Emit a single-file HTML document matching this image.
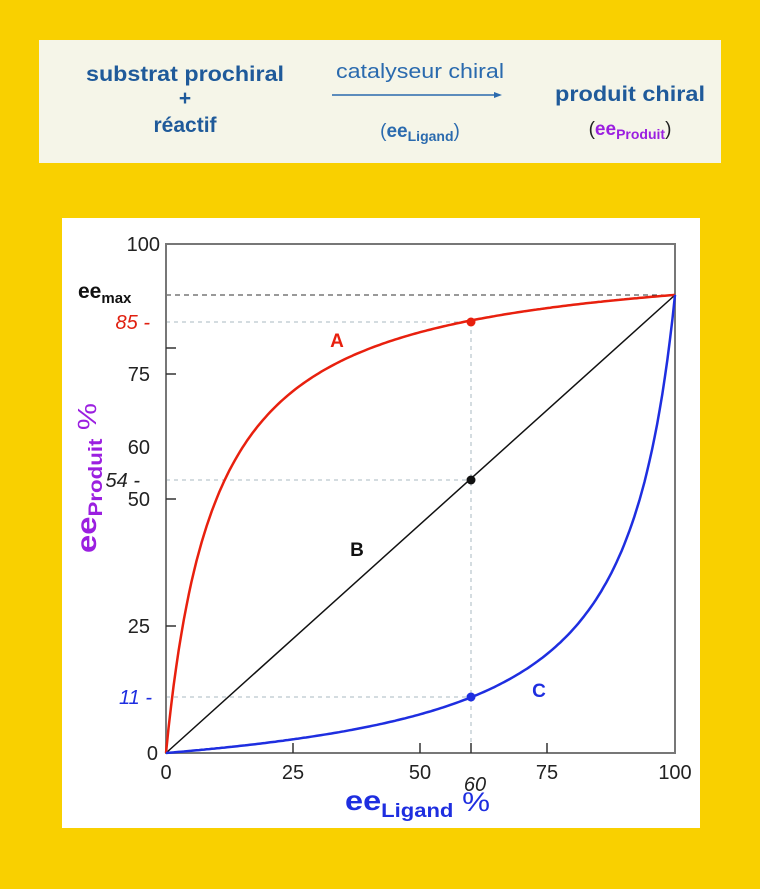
<!DOCTYPE html>
<html><head><meta charset="utf-8"><style>
body{margin:0;width:760px;height:884px;background:#F9D000;overflow:hidden;font-family:"Liberation Sans",Arial,sans-serif;}
</style></head><body>
<svg width="760" height="884" xmlns="http://www.w3.org/2000/svg" font-family="Liberation Sans, Arial, sans-serif">
<rect x="0" y="0" width="760" height="884" fill="#F9D000"/>
<rect x="39" y="40" width="682" height="123" fill="#F5F5E8"/>
<g fill="#1F5A9A" font-weight="bold" font-size="21" text-anchor="middle">
<text x="185" y="81" textLength="198" lengthAdjust="spacingAndGlyphs">substrat prochiral</text>
<text x="185" y="105">+</text>
<text x="185" y="132">réactif</text>
<text x="630" y="101" textLength="150" lengthAdjust="spacingAndGlyphs">produit chiral</text>
</g>
<text x="420" y="78" fill="#2A6AAE" font-size="20" text-anchor="middle" textLength="168" lengthAdjust="spacingAndGlyphs">catalyseur chiral</text>
<line x1="332" y1="95" x2="496" y2="95" stroke="#2A6AAE" stroke-width="1.5"/>
<polygon points="502,95 494,92 494,98" fill="#2A6AAE"/>
<text x="420" y="137" fill="#2A6AAE" font-size="19" text-anchor="middle">(<tspan font-weight="bold">ee</tspan><tspan font-size="14" font-weight="bold" dy="4">Ligand</tspan><tspan dy="-4">)</tspan></text>
<text x="630" y="135" fill="#222" font-size="19" text-anchor="middle">(<tspan fill="#9B1FE0" font-weight="bold">ee</tspan><tspan fill="#9B1FE0" font-size="14" font-weight="bold" dy="4">Produit</tspan><tspan dy="-4">)</tspan></text>

<rect x="62" y="218" width="638" height="610" fill="#fff"/>
<g stroke="#aab8c0" stroke-width="1" stroke-dasharray="4,4" fill="none">
<line x1="166" y1="322" x2="471" y2="322"/>
<line x1="166" y1="480" x2="471" y2="480"/>
<line x1="166" y1="697" x2="471" y2="697"/>
<line x1="471" y1="322" x2="471" y2="753"/>
</g>
<line x1="166" y1="295" x2="675" y2="295" stroke="#333" stroke-dasharray="5,4"/>
<rect x="166" y="244" width="509" height="509" fill="none" stroke="#777" stroke-width="2"/>
<g stroke="#333" stroke-width="1.5">
<line x1="166" y1="348" x2="176" y2="348"/>
<line x1="166" y1="374" x2="176" y2="374"/>
<line x1="166" y1="499" x2="176" y2="499"/>
<line x1="166" y1="626" x2="176" y2="626"/>
<line x1="293" y1="753" x2="293" y2="743"/>
<line x1="420" y1="753" x2="420" y2="743"/>
<line x1="471" y1="753" x2="471" y2="743"/>
<line x1="547" y1="753" x2="547" y2="743"/>
</g>
<g font-size="20" fill="#222" text-anchor="end">
<text x="160" y="251">100</text>
<text x="150" y="381">75</text>
<text x="150" y="454">60</text>
<text x="150" y="506">50</text>
<text x="150" y="633">25</text>
<text x="158" y="760">0</text>
<text x="140" y="487" font-style="italic">54 -</text>
<text x="150" y="329" font-style="italic" fill="#E02010">85 -</text>
<text x="152" y="704" font-style="italic" fill="#1E2EE0">11 -</text>
</g>
<text x="78" y="298" font-size="21" font-weight="bold" fill="#111">ee<tspan font-size="15" dy="5">max</tspan></text>
<g font-size="20" fill="#222" text-anchor="middle">
<text x="166" y="779">0</text>
<text x="293" y="779">25</text>
<text x="420" y="779">50</text>
<text x="547" y="779">75</text>
<text x="675" y="779">100</text>
<text x="475" y="791" font-style="italic">60</text>
</g>
<text x="345" y="810" font-size="28" font-weight="bold" fill="#1E2EE0" textLength="145" lengthAdjust="spacingAndGlyphs">ee<tspan font-size="19" dy="7">Ligand</tspan><tspan font-weight="normal" font-size="27" dy="-6"> %</tspan></text>
<text transform="translate(96,553) rotate(-90)" font-size="28" font-weight="bold" fill="#9B1FE0" textLength="150" lengthAdjust="spacingAndGlyphs">ee<tspan font-size="19" dy="6">Produit</tspan><tspan font-weight="normal" font-size="26" dy="-6"> %</tspan></text>
<line x1="166" y1="753" x2="675" y2="295" stroke="#111" stroke-width="1.5"/>
<path id="pa" fill="none" stroke="#E8200E" stroke-width="2.5"/>
<path id="pc" fill="none" stroke="#1E2EE0" stroke-width="2.5"/>
<circle cx="471" cy="322" r="4.5" fill="#E8200E"/>
<circle cx="471" cy="480" r="4.5" fill="#111"/>
<circle cx="471" cy="697" r="4.5" fill="#1E2EE0"/>
<g font-size="19" font-weight="bold" text-anchor="middle">
<text x="337" y="347" fill="#E8200E">A</text>
<text x="357" y="556" fill="#111">B</text>
<text x="539" y="697" fill="#1E2EE0">C</text>
</g>
</svg>
<script>
function X(v){return 166+5.09*v}function Y(v){return 753-5.09*v}
var a="",c="",ka=0.097,kc=0.102;
for(var i=0;i<=200;i++){var f=i/200;
var ya=90*f*(1+ka)/(f+ka), yc=90*f*kc/(1+kc-f);
a+=(i?"L":"M")+X(f*100).toFixed(1)+","+Y(ya).toFixed(1);
c+=(i?"L":"M")+X(f*100).toFixed(1)+","+Y(yc).toFixed(1);}
document.getElementById("pa").setAttribute("d",a);
document.getElementById("pc").setAttribute("d",c);
</script>
</body></html>
